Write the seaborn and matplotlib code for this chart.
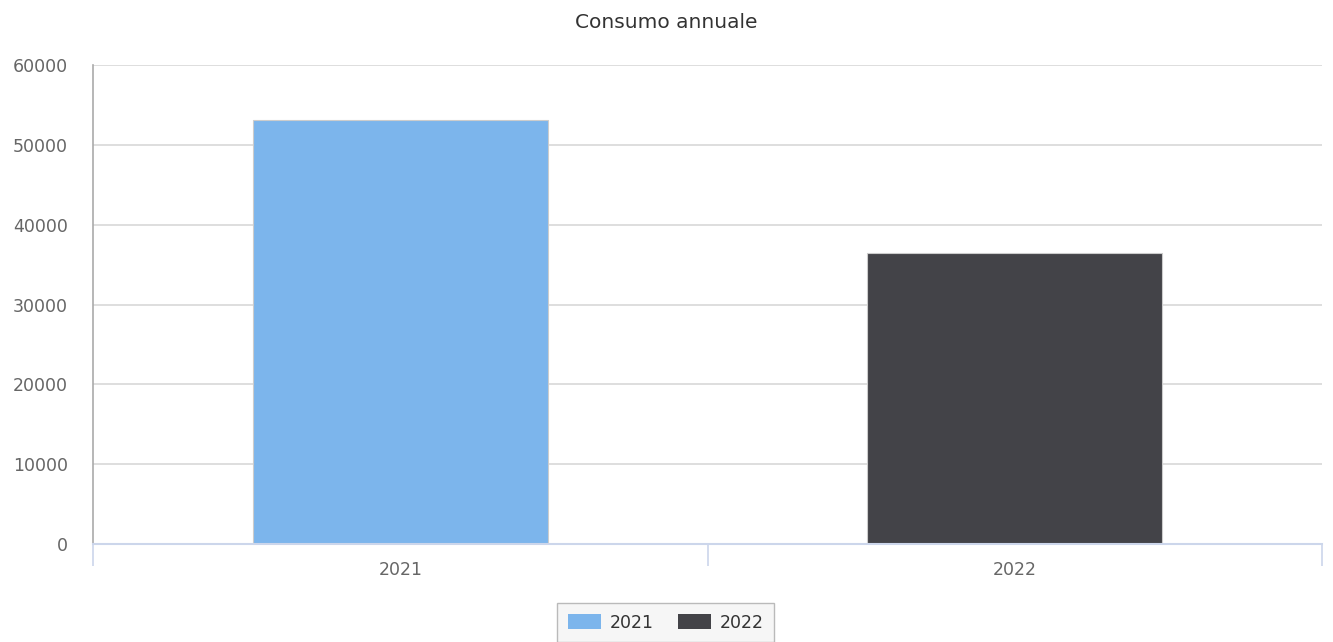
import matplotlib
matplotlib.use("Agg")
import matplotlib.pyplot as plt
from matplotlib.patches import Patch
import seaborn as sns
import pandas as pd

years = ["2021", "2022"]
consumption = [53100, 36500]
colors = ["#7cb5ec", "#434348"]
y_ticks = [0, 10000, 20000, 30000, 40000, 50000, 60000]

sns.set_theme(style="white")
plt.rcParams["font.family"] = ["DejaVu Sans"]

df = pd.DataFrame({"anno": years, "consumo": consumption})

fig = plt.figure(figsize=(13.33, 6.42), dpi=100)
ax = fig.add_axes([93 / 1333, 98 / 642, (1322 - 93) / 1333, (544 - 65) / 642])

sns.barplot(data=df, x="anno", y="consumo", hue="anno", palette=colors,
            width=0.48, edgecolor="#cccccc", linewidth=0.8, saturation=1,
            legend=False, ax=ax)

ax.set_xlim(-0.5, 1.5)
ax.set_ylim(0, 60000)
ax.set_yticks(y_ticks)
ax.set_yticklabels([str(v) for v in y_ticks], color="#666666", fontsize=12.5)
ax.yaxis.grid(True, color="#d8d8d8", linewidth=1.2)
ax.set_axisbelow(True)
ax.tick_params(axis="y", length=0, pad=18)

ax.set_xticks([0, 1])
ax.set_xticklabels(years, color="#666666", fontsize=12.5)
ax.set_xticks([-0.5, 0.5, 1.5], minor=True)
ax.tick_params(axis="x", which="major", length=0, pad=12)
ax.tick_params(axis="x", which="minor", length=16, width=1.2, color="#ccd6eb",
               bottom=True)
ax.set_xlabel("")
ax.set_ylabel("")

for side in ["top", "right"]:
    ax.spines[side].set_visible(False)
ax.spines["left"].set_color("#aaaaaa")
ax.spines["left"].set_linewidth(1.2)
ax.spines["bottom"].set_color("#ccd6eb")
ax.spines["bottom"].set_linewidth(1.5)

fig.text(0.5, 1 - 22 / 642, "Consumo annuale", ha="center", va="center",
         fontsize=14.5, color="#333333")

handles = [Patch(facecolor=c, edgecolor="none", label=y) for y, c in zip(years, colors)]
leg = fig.legend(handles=handles, loc="upper center",
                 bbox_to_anchor=(665.5 / 1333, 1 - 598 / 642), ncol=2,
                 frameon=True, fancybox=False, fontsize=12.5,
                 handlelength=1.9, handleheight=0.9, columnspacing=1.4,
                 borderpad=0.6, handletextpad=0.5, borderaxespad=0.3)
leg.get_frame().set_facecolor("#f4f4f4")
leg.get_frame().set_edgecolor("#aaaaaa")
for t in leg.get_texts():
    t.set_color("#333333")

fig.savefig("out.png", dpi=100)
